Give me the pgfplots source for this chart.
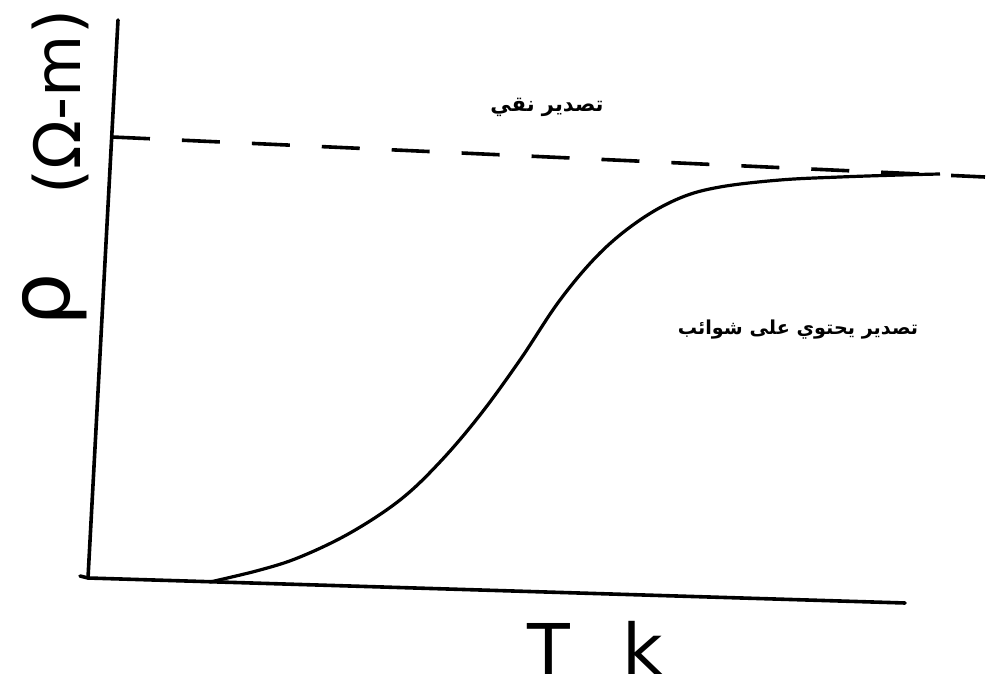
\documentclass[border=0pt]{standalone}
\usepackage{pgfplots}
\pgfplotsset{compat=1.18}
\usepackage{fontspec}
\setmainfont{DejaVu Sans}
\newfontfamily\arabicfont[Script=Arabic]{DejaVu Sans}
\TeXXeTstate=1

\begin{document}
\begin{tikzpicture}
\begin{axis}[
  width=496pt, height=346pt, scale only axis,
  xmin=0, xmax=992, ymin=0, ymax=692,
  axis lines=none, clip=false,
]
% hand-drawn axes
\addplot[black, line width=1.8pt, line cap=round] coordinates {(118,672) (88,114)};
\addplot[black, line width=1.8pt, line cap=round] coordinates {(80,116) (88,114) (905,89)};
% resistivity of the pure conductor
\addplot[black, line width=1.8pt, dash pattern=on 19pt off 16pt] coordinates {(112,555) (985,515)};
% resistivity of the conductor with impurities
\addplot[black, line width=1.6pt, smooth, tension=0.6] coordinates {
  (210,110) (260,122) (300,135) (350,159) (400,192) (440,230)
  (480,277) (520,332) (560,392) (600,439) (640,472) (680,494)
  (720,505) (780,512) (840,515) (900,517) (940,518)
};
% labels
\node at (axis cs:547,585) {\arabicfont\bfseries\fontsize{10.5}{13}\selectfont\beginR تصدير نقي\endR};
\node at (axis cs:798,362) {\arabicfont\bfseries\fontsize{9.6}{12}\selectfont\beginR تصدير يحتوي على شوائب\endR};
\node[rotate=90, inner sep=0pt] at (axis cs:55,392) {\fontsize{42}{46}\selectfont ρ};
\node[rotate=90, inner sep=0pt] at (axis cs:60,590) {\fontsize{32}{36}\selectfont(Ω-m)};
\node[inner sep=0pt] at (axis cs:595,44) {\fontsize{35}{40}\selectfont T\hspace{26pt}k};
\end{axis}
\pgfresetboundingbox
\path (current axis.south west) rectangle (current axis.north east);
\end{tikzpicture}
\end{document}
